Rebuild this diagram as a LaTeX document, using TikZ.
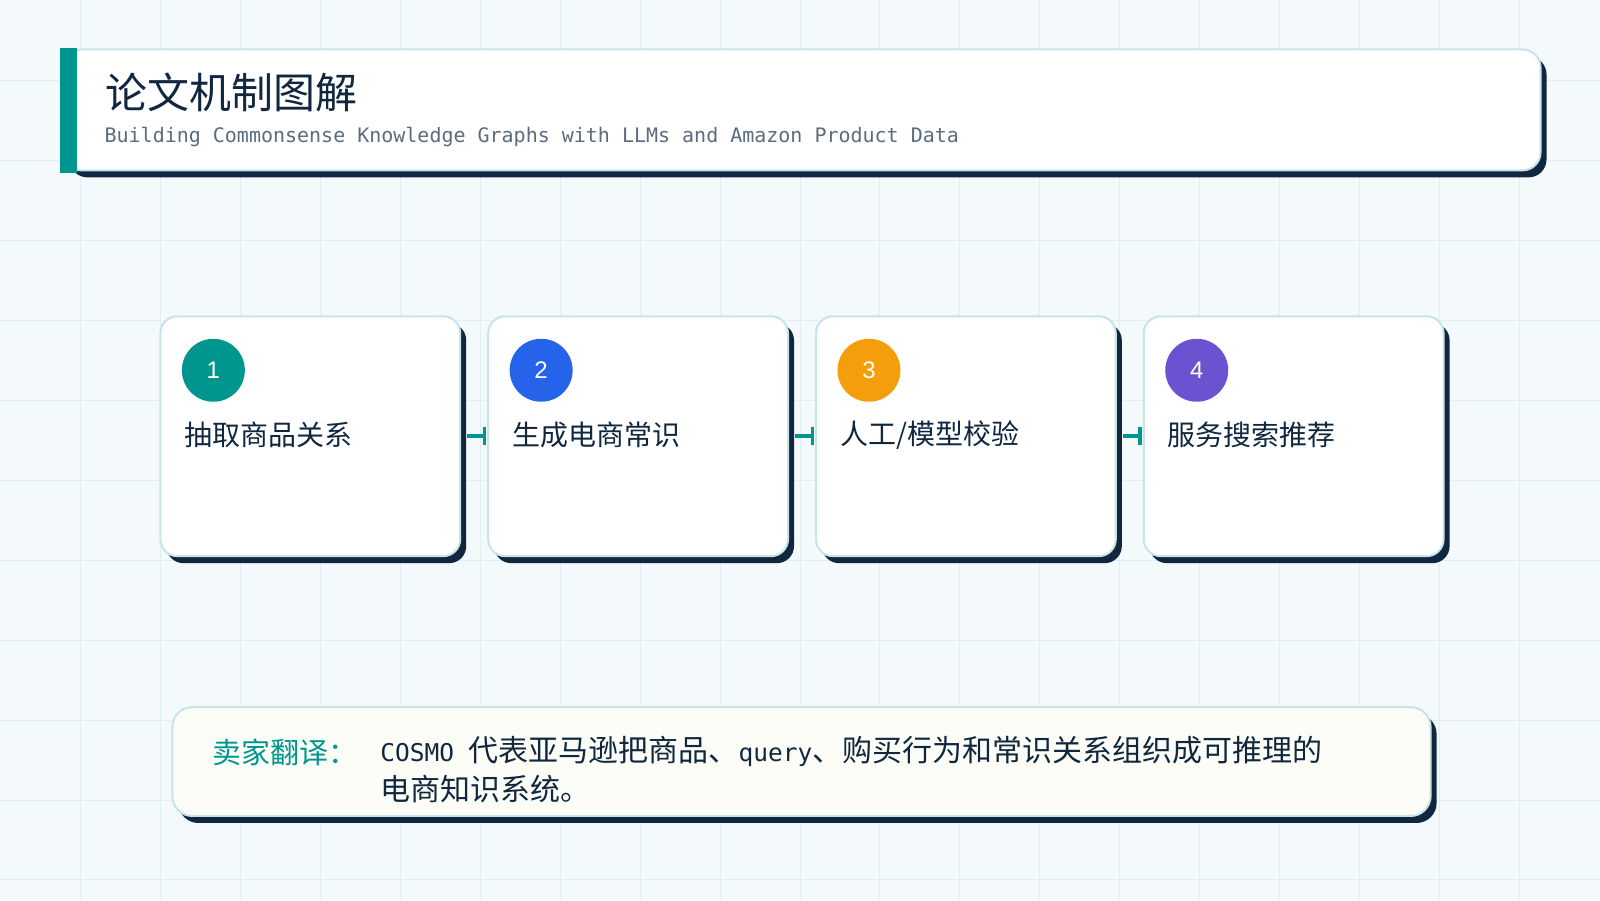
\documentclass[tikz,border=0pt]{standalone}
\usepackage{fontspec}
\setmainfont{Noto Sans CJK SC}
\newfontfamily\monofont{DejaVu Sans Mono}
\newfontfamily\numfont{Liberation Sans}
\usepackage{tikz}
\usetikzlibrary{arrows.meta, positioning, calc, shadows}
\definecolor{mTeal}{HTML}{00968F}
\definecolor{mBlue}{HTML}{2563EB}
\definecolor{mAmber}{HTML}{F59E0B}
\definecolor{mPurple}{HTML}{6B52D1}
\definecolor{mNavy}{HTML}{10273F}
\definecolor{mSlate}{HTML}{5B6B80}
\definecolor{mEdge}{HTML}{C8E4E9}
\definecolor{mBack}{HTML}{F4F9FB}
\definecolor{mGrid}{HTML}{DFF0F3}
\definecolor{mIvory}{HTML}{FCFDF7}
\newcommand{\lat}[1]{{\monofont\fontsize{24.5}{39}\selectfont #1}}

\begin{document}
\begin{tikzpicture}[x=1pt, y=-1pt,
    panel/.style={draw=mEdge, line width=2pt, fill=white, rounded corners=18pt,
      inner sep=0pt, anchor=north west,
      general shadow={fill=mNavy, shadow xshift=6pt, shadow yshift=-7pt}},
    card/.style={panel, rounded corners=17pt, minimum width=300pt, minimum height=240pt},
    badge/.style={circle, minimum size=63pt, inner sep=0pt, text=white,
      font=\numfont\fontsize{24}{24}\selectfont},
    steptext/.style={anchor=west, inner sep=0pt, text=mNavy, font=\fontsize{28}{28}\selectfont},
    flow/.style={draw=mTeal, line width=3.5pt, shorten <=6pt, shorten >=1pt, -{Bar[width=18pt]}},
    gridline/.style={draw=mGrid, line width=1pt}]
  \fill[mBack] (0,0) rectangle (1600,900);
  \foreach \gx in {80,160,...,1520} \draw[gridline] (\gx,0) -- (\gx,900);
  \foreach \gy in {80,160,...,880} \draw[gridline] (0,\gy) -- (1600,\gy);

  \node[panel, minimum width=1478pt, minimum height=121pt] (head) at (62,48) {};
  \fill[mTeal] ($(head.north west)+(-2,0)$) rectangle ($(head.south west)+(15,2)$);
  \node[anchor=west, inner sep=0pt, text=mNavy, font=\fontsize{42}{42}\selectfont] (title) at (105,92) {论文机制图解};
  \node[anchor=west, inner sep=0pt, text=mSlate, font=\monofont\fontsize{20}{20}\selectfont] (subtitle) at (104,137)
    {Building Commonsense Knowledge Graphs with LLMs and Amazon Product Data};

  \foreach \i/\x/\col/\txt in {1/159/mTeal/抽取商品关系, 2/487/mBlue/生成电商常识,
      3/815/mAmber/{人工/模型校验}, 4/1143/mPurple/服务搜索推荐} {
    \node[card] (s\i) at (\x,315) {};
    \node[badge, fill=\col] (b\i) at ($(s\i.north west)+(54,55)$) {\i};
    \node[steptext] (t\i) at ($(s\i.north west)+(25,120)$) {\txt};
  }
  \foreach \a/\b in {1/2, 2/3, 3/4} \draw[flow] (s\a.east) -- (s\b.west);

  \node[panel, fill=mIvory, rounded corners=20pt, minimum width=1259pt, minimum height=109pt] (note) at (171,706) {};
  \node[anchor=base west, inner sep=0pt, text=mTeal, font=\fontsize{29}{39}\selectfont] (notelbl) at (212,763) {卖家翻译：};
  \node[anchor=north west, inner sep=0pt, align=left, text=mNavy, font=\fontsize{30}{39}\selectfont] (notetext) at (380,736)
    {\lat{COSMO }代表亚马逊把商品、\lat{query}、购买行为和常识关系组织成可推理的\\电商知识系统。};
\end{tikzpicture}
\end{document}
